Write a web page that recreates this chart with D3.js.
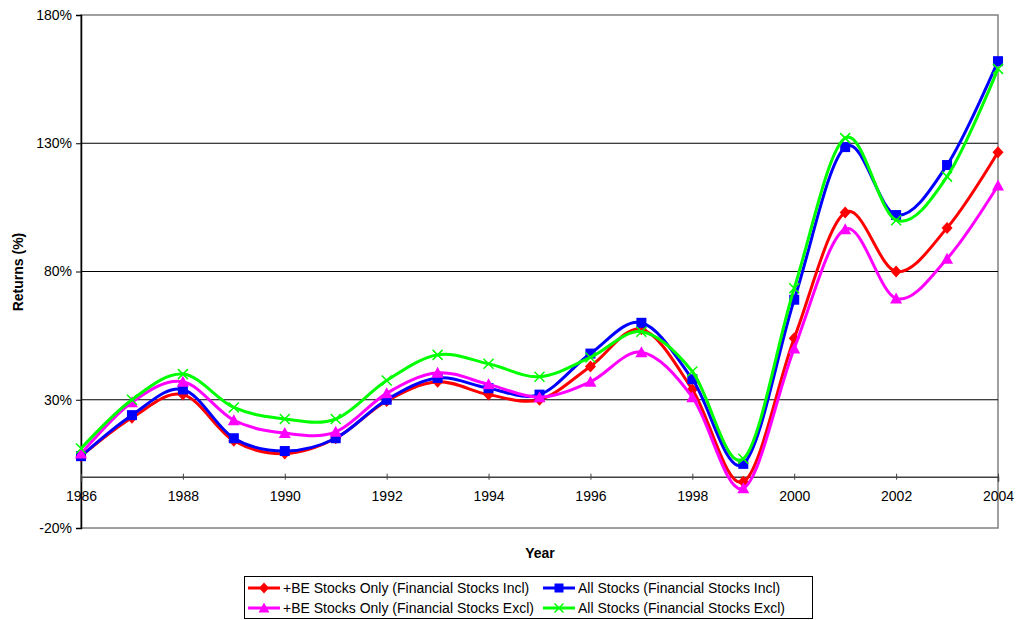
<!DOCTYPE html>
<html>
<head>
<meta charset="utf-8">
<script src="https://cdn.jsdelivr.net/npm/d3@7/dist/d3.min.js"></script>
<style>
  html, body { margin: 0; padding: 0; background: #fff; }
  svg { display: block; font-family: "Liberation Sans", Arial, sans-serif; }
</style>
</head>
<body>
<svg id="chart" width="1016" height="620"></svg>
<script>
const years = [1986,1987,1988,1989,1990,1991,1992,1993,1994,1995,1996,1997,1998,1999,2000,2001,2002,2003,2004];
const yTicks = [-20, 30, 80, 130, 180];
const xTicks = [1986,1988,1990,1992,1994,1996,1998,2000,2002,2004];

const beIncl  = [8, 23, 32, 14, 9, 15, 29.5, 37, 32, 30, 43, 57.5, 34, -2, 54, 103, 80, 97, 126.5];
const allIncl = [8, 24, 34, 15, 10, 15, 30, 38.5, 34.5, 32, 48, 60, 38, 5, 69, 128.5, 102, 121.5, 162];
const beExcl  = [9, 29, 37, 22, 17, 17.5, 32.5, 40.5, 36, 31, 37, 48.5, 31, -4.5, 50, 96.5, 69.5, 85, 113.5];
const allExcl = [11, 30, 40, 27, 22.5, 22.5, 37.5, 47.5, 44, 39, 46.5, 56.5, 41, 7, 73.5, 132, 100, 117, 159];

const seriesNames = [
  "+BE Stocks Only (Financial Stocks Incl)",
  "All Stocks (Financial Stocks Incl)",
  "+BE Stocks Only (Financial Stocks Excl)",
  "All Stocks (Financial Stocks Excl)"
];

const series = [
  {name: seriesNames[0], values: beIncl,  color: "#ff0000", marker: "diamond"},
  {name: seriesNames[1], values: allIncl, color: "#0000ff", marker: "square"},
  {name: seriesNames[2], values: beExcl,  color: "#ff00ff", marker: "triangle"},
  {name: seriesNames[3], values: allExcl, color: "#00ff00", marker: "x"}
];

const svg = d3.select("#chart");
const L = 81, R = 998, T = 15, B = 528;
const FONT = "'Liberation Sans', Arial, sans-serif";

const x = d3.scaleLinear().domain([1986, 2004]).range([L, R]);
const y = d3.scaleLinear().domain([-20, 180]).range([B, T]);

// plot area border
svg.append("rect").attr("x", L).attr("y", T).attr("width", R - L).attr("height", B - T)
  .attr("fill", "none").attr("stroke", "#808080").attr("stroke-width", 1.5);

// gridlines
svg.append("g").selectAll("line").data(yTicks.filter(d => d !== -20 && d !== 180)).join("line")
  .attr("x1", L).attr("x2", R).attr("y1", d => y(d)).attr("y2", d => y(d))
  .attr("stroke", "#000").attr("stroke-width", 1);

// y axis
const yAxis = d3.axisLeft(y).tickValues(yTicks).tickFormat(d => d + "%").tickSize(5).tickPadding(4);
const gy = svg.append("g").attr("transform", `translate(${L},0)`).call(yAxis);
gy.select(".domain").attr("stroke", "#000").attr("stroke-width", 1.5);
gy.selectAll(".tick line").attr("stroke", "#000");
gy.selectAll("text").attr("font-size", 14).attr("fill", "#000").attr("font-family", FONT);

// x axis at 0%
const xAxis = d3.axisBottom(x).tickValues(xTicks).tickFormat(d3.format("d")).tickSize(5).tickPadding(9);
const gx = svg.append("g").attr("transform", `translate(0,${y(0)})`).call(xAxis);
gx.select(".domain").attr("stroke", "#404040").attr("stroke-width", 1.5);
gx.selectAll(".tick line").attr("stroke", "#404040").attr("y1", -3).attr("y2", 3);
gx.selectAll("text").attr("font-size", 14).attr("fill", "#000").attr("font-family", FONT);

// axis titles
svg.append("text").attr("x", 540).attr("y", 558).attr("text-anchor", "middle")
  .attr("font-size", 14).attr("font-weight", "bold").text("Year");
svg.append("text").attr("transform", "translate(23,272) rotate(-90)").attr("text-anchor", "middle")
  .attr("font-size", 14).attr("font-weight", "bold").text("Returns (%)");

function drawMarker(g, type, cx, cy, color, s) {
  if (type === "diamond") {
    g.append("path").attr("d", `M${cx},${cy - s * 0.6}L${cx + s * 0.55},${cy}L${cx},${cy + s * 0.6}L${cx - s * 0.55},${cy}Z`)
      .attr("fill", color);
  } else if (type === "square") {
    g.append("rect").attr("x", cx - s / 2).attr("y", cy - s / 2).attr("width", s).attr("height", s).attr("fill", color);
  } else if (type === "triangle") {
    g.append("path").attr("d", `M${cx},${cy - s * 0.6}L${cx + s * 0.6},${cy + s * 0.5}L${cx - s * 0.6},${cy + s * 0.5}Z`)
      .attr("fill", color);
  } else if (type === "x") {
    const h = s * 0.5;
    g.append("path").attr("d", `M${cx - h},${cy - h}L${cx + h},${cy + h}M${cx - h},${cy + h}L${cx + h},${cy - h}`)
      .attr("stroke", color).attr("stroke-width", 1.5).attr("fill", "none");
  }
}

const line = d3.line().x((d, i) => x(years[i])).y(d => y(d)).curve(d3.curveCardinal.tension(0));

series.forEach(s => {
  const g = svg.append("g");
  g.append("path").attr("d", line(s.values)).attr("fill", "none")
    .attr("stroke", s.color).attr("stroke-width", 3);
  s.values.forEach((v, i) => drawMarker(g, s.marker, x(years[i]), y(v), s.color, 10));
});

// legend
const lg = svg.append("g");
lg.append("rect").attr("x", 244.5).attr("y", 576.5).attr("width", 568).attr("height", 42)
  .attr("fill", "#fff").attr("stroke", "#000").attr("stroke-width", 1);
const legPos = [
  {x: 248, y: 588}, {x: 543, y: 588},
  {x: 248, y: 608}, {x: 543, y: 608}
];
series.forEach((s, i) => {
  const p = legPos[i];
  lg.append("line").attr("x1", p.x).attr("x2", p.x + 32).attr("y1", p.y).attr("y2", p.y)
    .attr("stroke", s.color).attr("stroke-width", 3);
  drawMarker(lg, s.marker, p.x + 16, p.y, s.color, 9);
  lg.append("text").attr("x", p.x + 35).attr("y", p.y + 5).attr("font-size", 14)
    .attr("fill", "#000").attr("font-family", FONT).text(s.name);
});
</script>
</body>
</html>
